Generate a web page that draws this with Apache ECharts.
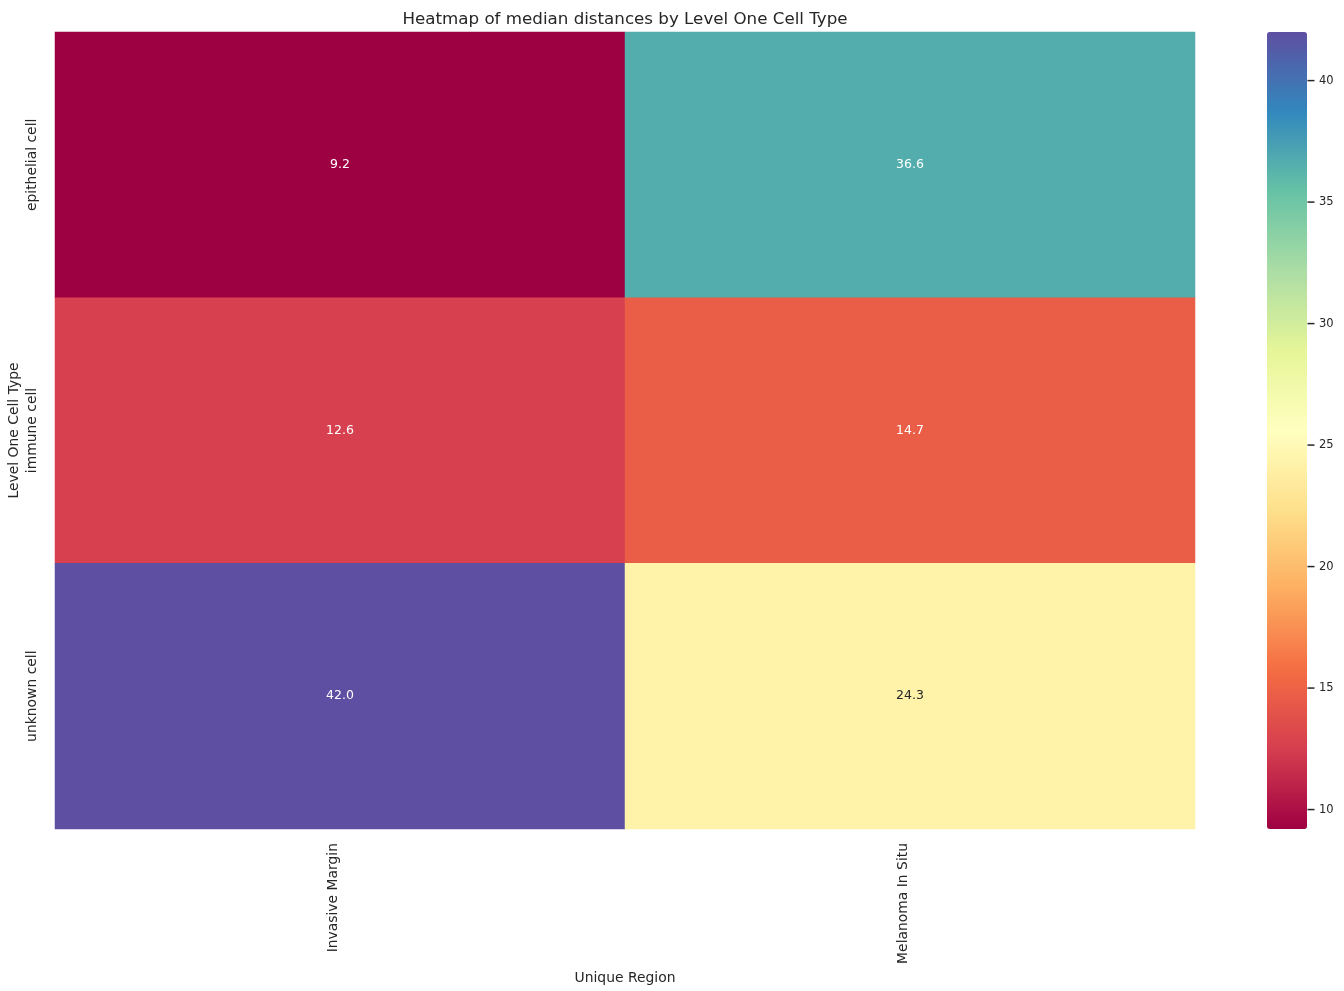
<!DOCTYPE html>
<html><head><meta charset="utf-8">
<script src="https://cdn.jsdelivr.net/npm/echarts@6/dist/echarts.min.js"></script>
<style>html,body{margin:0;padding:0;background:#fff}#c{width:1344px;height:991px}</style>
</head><body><div id="c"></div>
<script>
const regions = ['Invasive Margin', 'Melanoma In Situ'];
const cellTypes = ['epithelial cell', 'immune cell', 'unknown cell'];
const invasiveMargin = [9.2, 12.6, 42.0];
const melanomaInSitu = [36.6, 14.7, 24.3];
const colorbarTicks = [10, 15, 20, 25, 30, 35, 40];
const spectral = ['#9e0142','#d53e4f','#f46d43','#fdae61','#fee08b','#ffffbf','#e6f598','#abdda4','#66c2a5','#3288bd','#5e4fa2'];

const allVals = invasiveMargin.concat(melanomaInSitu);
const vmin = Math.min(...allVals), vmax = Math.max(...allVals);

function hex(c){return [1,3,5].map(i=>parseInt(c.substr(i,2),16)/255);}
function cmap(v){
  const t = (v - vmin) / (vmax - vmin) * (spectral.length - 1);
  const i = Math.min(Math.floor(t), spectral.length - 2), f = t - i;
  const a = hex(spectral[i]), b = hex(spectral[i+1]);
  return a.map((x,k)=>x + (b[k]-x)*f);
}
function lum(rgb){
  const l = rgb.map(c => c <= 0.03928 ? c/12.92 : Math.pow((c+0.055)/1.055, 2.4));
  return 0.2126*l[0] + 0.7152*l[1] + 0.0722*l[2];
}

const cols = [invasiveMargin, melanomaInSitu];
const data = [];
cols.forEach((arr, xi) => arr.forEach((v, yi) => {
  data.push({value: [xi, yi, v], label: {color: lum(cmap(v)) > 0.408 ? '#262626' : '#ffffff'}});
}));

const font = 'DejaVu Sans';
const txt = '#262626';
const chart = echarts.init(document.getElementById('c'));
chart.setOption({
  animation: false,
  textStyle: {fontFamily: font},
  title: {text: 'Heatmap of median distances by Level One Cell Type', left: 620, top: 6, textAlign: 'center',
    textStyle: {fontFamily: font, fontSize: 16.7, fontWeight: 'normal', color: txt}},
  grid: [
    {left: 55, right: 149, top: 32, bottom: 162, containLabel: false, outerBoundsMode: 'none'},
    {left: 1267, width: 48, top: 32, height: 797, containLabel: false, outerBoundsMode: 'none'}
  ],
  xAxis: [
    {type: 'category', data: regions, gridIndex: 0,
     name: 'Unique Region', nameLocation: 'middle', nameGap: 134,
     nameTextStyle: {fontSize: 13.9, color: txt, fontFamily: font},
     axisLine: {show: false}, axisTick: {show: false}, splitLine: {show: false},
     axisLabel: {rotate: 90, fontSize: 13.9, color: txt, margin: 14, fontFamily: font, verticalAlign: 'bottom'}},
    {type: 'value', gridIndex: 1, min: 0, max: 1,
     axisLine: {show: false}, axisTick: {show: false}, axisLabel: {show: false}, splitLine: {show: false}}
  ],
  yAxis: [
    {type: 'category', data: cellTypes, gridIndex: 0, inverse: true,
     name: 'Level One Cell Type', nameLocation: 'middle', nameGap: 34, nameRotate: 90, nameMoveOverlap: false,
     nameTextStyle: {fontSize: 13.9, color: txt, fontFamily: font},
     axisLine: {show: false}, axisTick: {show: false}, splitLine: {show: false},
     axisLabel: {rotate: 90, fontSize: 13.9, color: txt, margin: 16, fontFamily: font}},
    {type: 'value', gridIndex: 1, position: 'right', min: vmin, max: vmax,
     axisLine: {show: false}, splitLine: {show: false}, axisTick: {show: false},
     axisLabel: {fontSize: 11.5, color: txt, margin: 4, fontFamily: font, customValues: colorbarTicks}}
  ],
  visualMap: {
    type: 'continuous', min: vmin, max: vmax, calculable: false, orient: 'vertical',
    left: 1262, top: 27, itemWidth: 40, itemHeight: 797, padding: 5,
    inRange: {color: spectral}, text: null, showLabel: false, hoverLink: false, seriesIndex: 0
  },
  series: [{
    type: 'heatmap', xAxisIndex: 0, yAxisIndex: 0, data: data,
    label: {show: true, fontSize: 12.5, fontFamily: font, formatter: p => p.value[2].toFixed(1)},
    itemStyle: {borderWidth: 0}
  }, {
    type: 'scatter', xAxisIndex: 1, yAxisIndex: 1, silent: true,
    data: colorbarTicks.map(t => [0.5, t]),
    symbol: 'rect', symbolSize: [7, 1.5], symbolOffset: [20, 0],
    itemStyle: {color: txt, opacity: 1}, z: 10
  }]
});
</script></body></html>
